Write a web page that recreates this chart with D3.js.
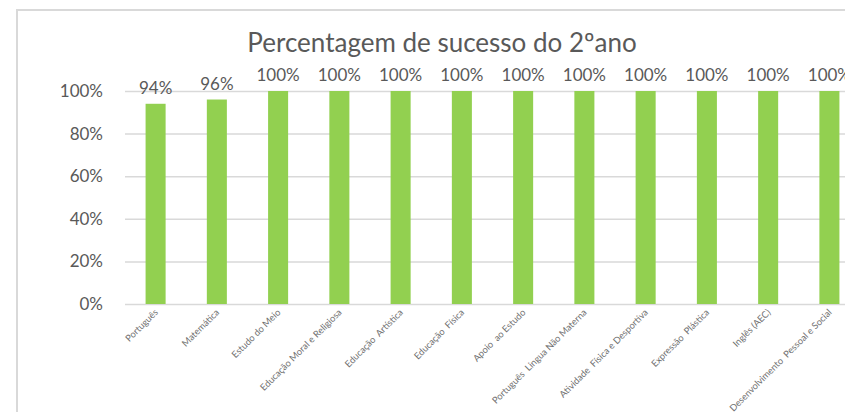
<!DOCTYPE html>
<html>
<head>
  <meta content="text/html;charset=utf-8" http-equiv="Content-Type">
  <title>Percentagem de sucesso do 2ºano</title>
<script src="https://cdnjs.cloudflare.com/ajax/libs/d3/7.6.1/d3.min.js"></script>
<style>
  body { margin: 0; background: #fff; }
  text { font-family: Lato, 'Open Sans', sans-serif; fill: #595959; }
</style>
</head>
<body>
<svg width="845" height="412"></svg>
<script>

let disciplinas = [
   'Português', 'Matemática', 'Estudo do Meio', 'Educação Moral e Religiosa',
   'Educação  Artística', 'Educação  Física', 'Apoio  ao Estudo',
   'Português  Lingua Não Materna', 'Atividade  Física e Desportiva',
   'Expressão  Plástica', 'Inglês (AEC)', 'Desenvolvimento  Pessoal e Social'
];
let sucesso = [0.94, 0.96, 1, 1, 1, 1, 1, 1, 1, 1, 1, 1];
let yTicks  = [0, 0.2, 0.4, 0.6, 0.8, 1];

let svg = d3.select('svg');

// chart frame (cut off on the right and bottom)
svg.append('rect')
   .attr('x', 17).attr('y', 10)
   .attr('width', 900).attr('height', 500)
   .attr('fill', 'none')
   .attr('stroke', '#d9d9d9')
   .attr('stroke-width', 2);

svg.append('text')
   .attr('x', 442).attr('y', 52)
   .attr('text-anchor', 'middle')
   .attr('font-size', 26)
   .text('Percentagem de sucesso do 2ºano');

let x = d3.scaleBand()
   .domain(disciplinas)
   .range([125, 860])
   .paddingInner(0.673)
   .paddingOuter(0.336);

let y = d3.scaleLinear()
   .domain([0, 1])
   .range([304, 91]);

// gridlines + y labels
let yAxis = svg.append('g')
   .attr('transform', 'translate(125,0)')
   .call(d3.axisLeft(y).tickValues(yTicks).tickFormat(d3.format('.0%')).tickSize(-735).tickPadding(22));
yAxis.select('.domain').remove();
yAxis.selectAll('line').attr('stroke', '#d9d9d9').attr('stroke-width', 1.5);
yAxis.selectAll('text')
   .attr('font-family', 'Lato')
   .attr('font-size', 17)
   .attr('fill', '#595959');

// bars
svg.selectAll('rect.bar')
   .data(sucesso)
   .enter()
   .append('rect')
   .attr('class', 'bar')
   .attr('x', (d, i) => x(disciplinas[i]))
   .attr('width', x.bandwidth())
   .attr('y', d => y(d))
   .attr('height', d => y(0) - y(d))
   .attr('fill', '#92d050');

// value labels
svg.selectAll('text.val')
   .data(sucesso)
   .enter()
   .append('text')
   .attr('class', 'val')
   .attr('x', (d, i) => x(disciplinas[i]) + x.bandwidth() / 2)
   .attr('y', d => y(d) - 10)
   .attr('text-anchor', 'middle')
   .attr('font-size', 17)
   .text(d => d3.format('.0%')(d));

// category labels, rotated
svg.selectAll('text.cat')
   .data(disciplinas)
   .enter()
   .append('text')
   .attr('class', 'cat')
   .attr('text-anchor', 'end')
   .attr('font-size', 9.3)
   .style('fill', '#707070')
   .style('white-space', 'pre')
   .attr('transform', d => 'translate(' + (x(d) + x.bandwidth() / 2 + 3) + ',313) rotate(-45)')
   .text(d => d);

</script>
</body>
</html>
